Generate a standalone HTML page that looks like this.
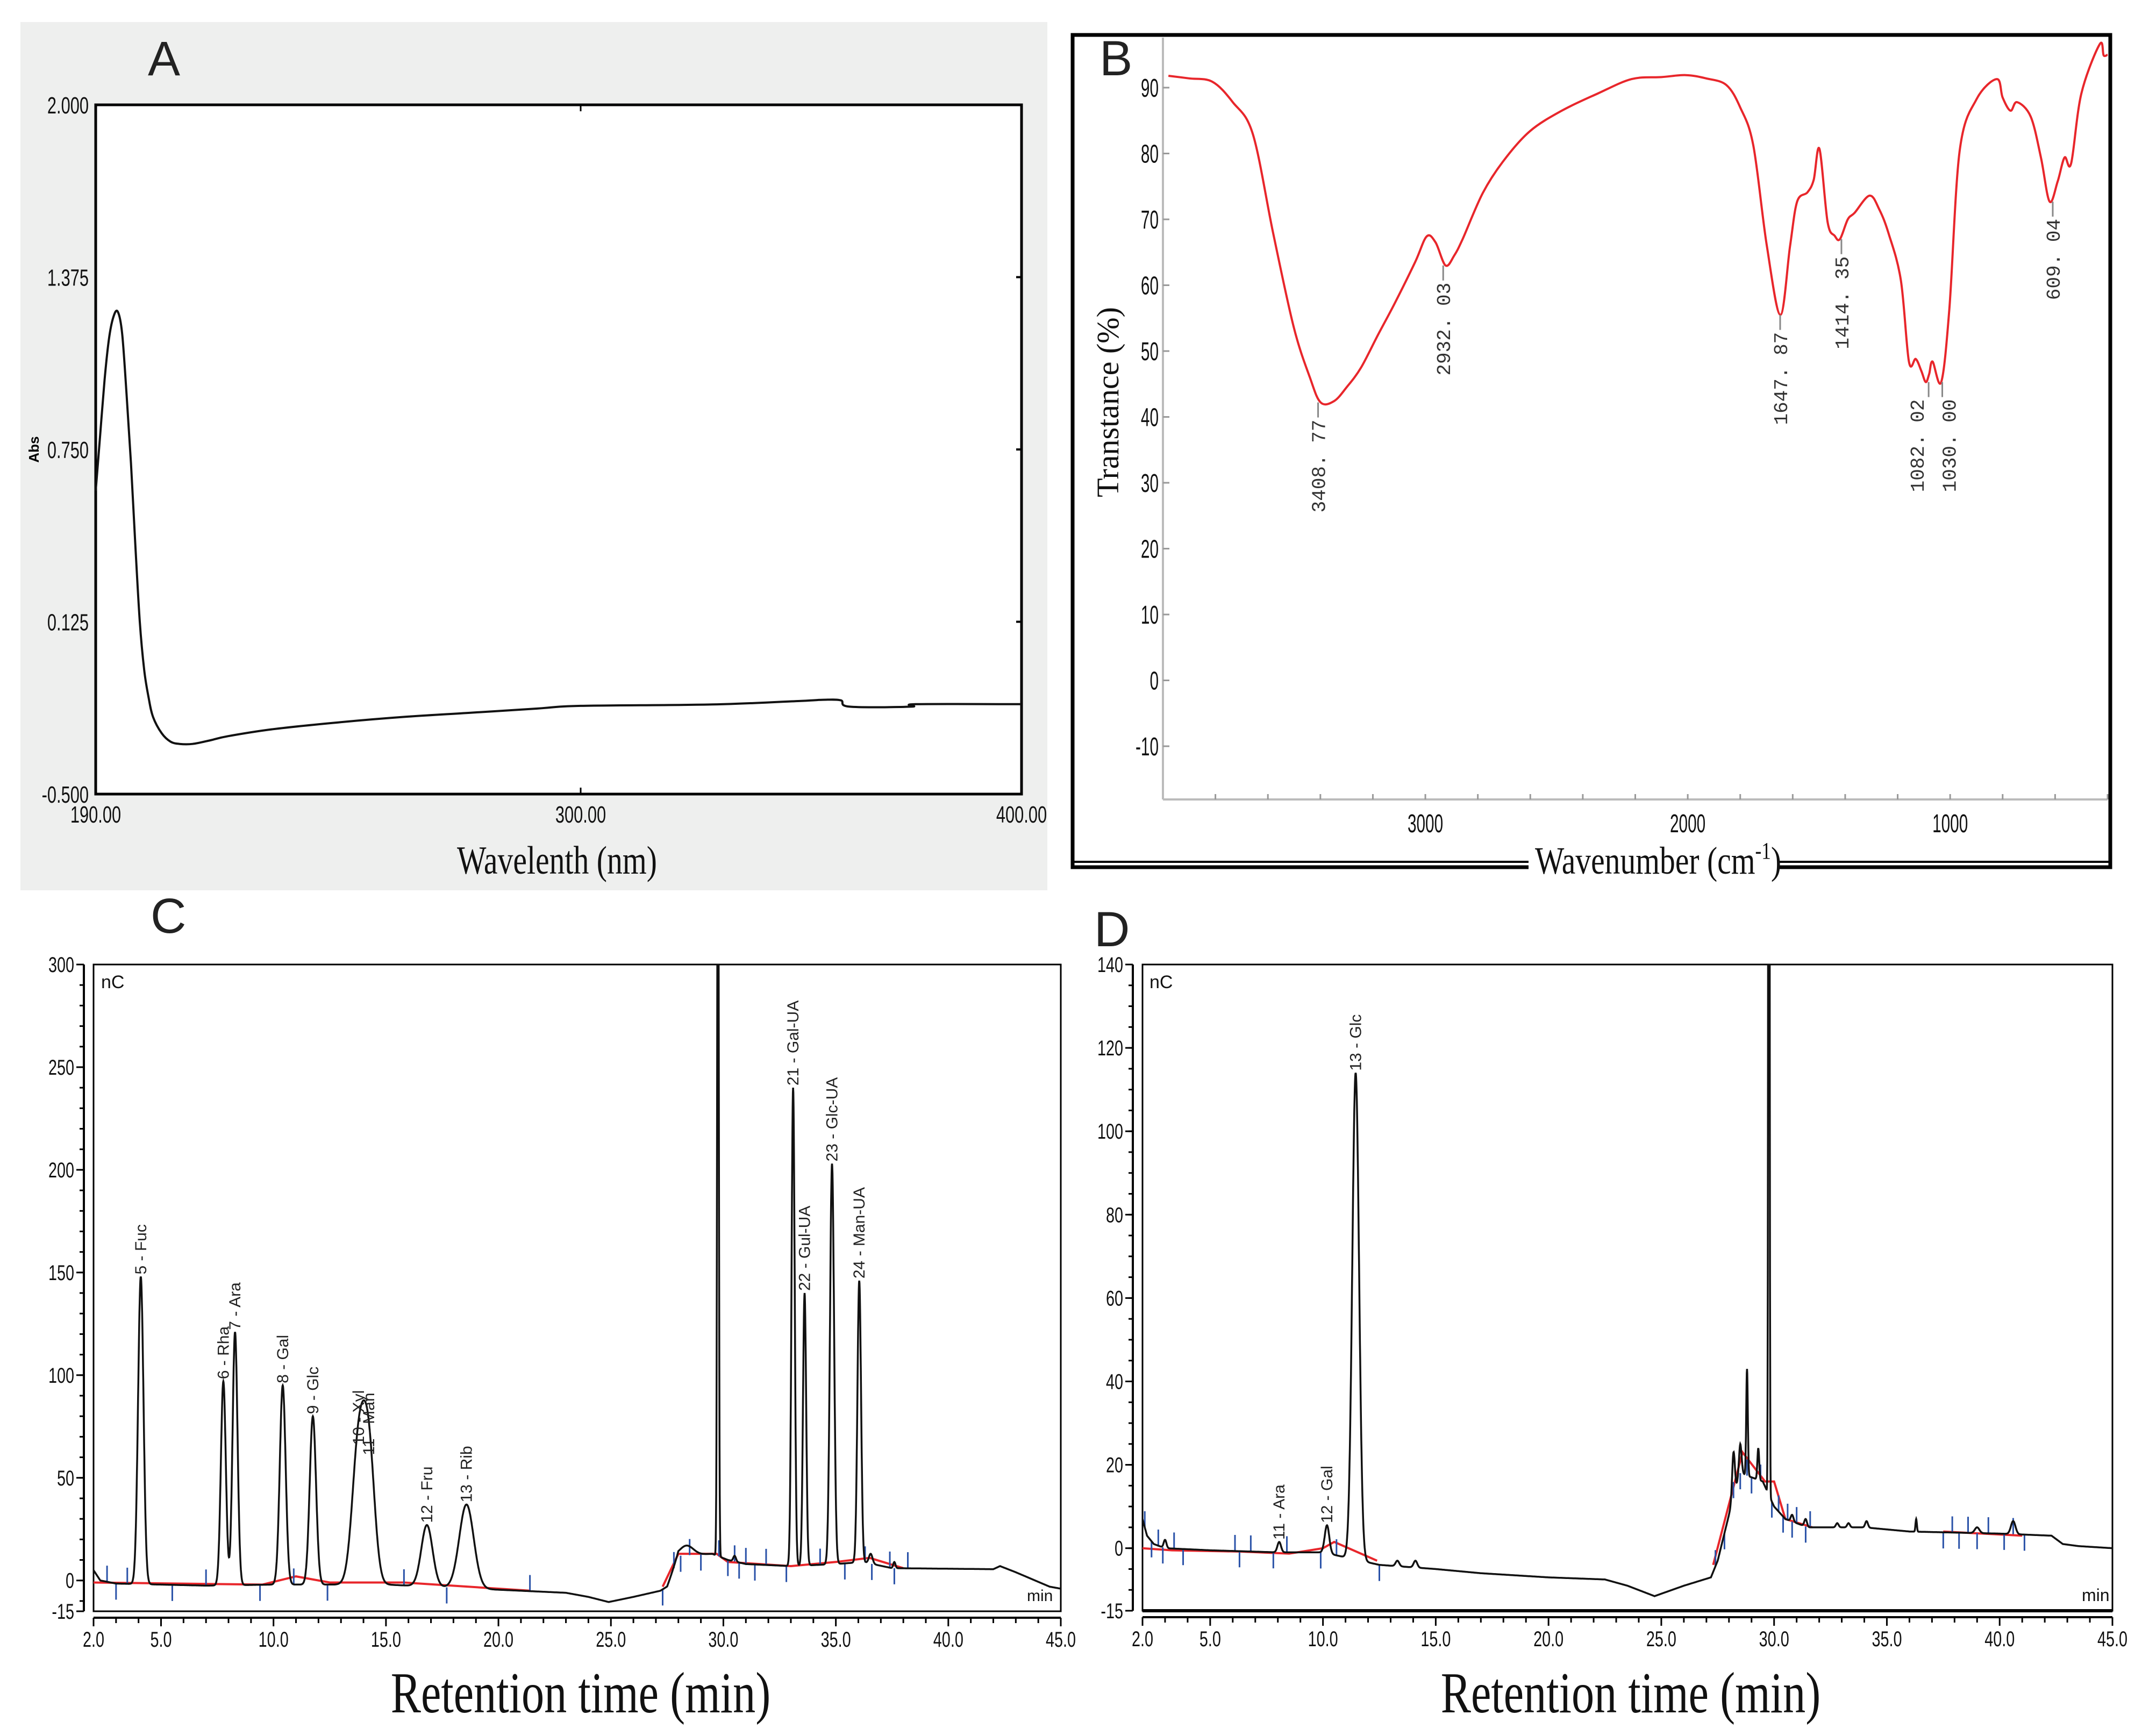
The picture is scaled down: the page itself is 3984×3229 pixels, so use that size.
<!DOCTYPE html>
<html><head><meta charset="utf-8"><style>
html,body{margin:0;padding:0;background:#fff}
svg{display:block}
.tk{font-family:"Liberation Sans Narrow","Liberation Sans",sans-serif;fill:#111}
.ser{font-family:"Liberation Serif",serif;fill:#111}
.pl{font-family:"Liberation Sans",sans-serif}
</style></head><body>
<svg id="fig" width="3984" height="3229" viewBox="0 0 3984 3229" xmlns="http://www.w3.org/2000/svg">
<rect width="3984" height="3229" fill="#fff"/>
<!-- Panel A -->
<g id="pA">
<rect x="38" y="41" width="1910" height="1615" fill="#eeefee"/>
<rect x="178" y="195" width="1722" height="1282" fill="#fff" stroke="#000" stroke-width="5"/>
<text x="275" y="140" class="pl" font-size="90" fill="#222">A</text>
<text transform="translate(1036,1625) scale(0.78,1)" text-anchor="middle" class="ser" font-size="74">Wavelenth (nm)</text>
<text transform="translate(72,836) rotate(-90)" text-anchor="middle" class="pl" font-size="26" font-weight="bold">Abs</text>
</g>
<!-- Panel B -->
<g id="pB">
<rect x="1995" y="65" width="1930" height="1548" fill="none" stroke="#000" stroke-width="7"/>
<line x1="1995" y1="1603" x2="3925" y2="1603" stroke="#000" stroke-width="4"/>
<line x1="2163" y1="70" x2="2163" y2="1487" stroke="#bbb" stroke-width="4"/>
<line x1="2163" y1="1487" x2="3920" y2="1487" stroke="#bbb" stroke-width="4"/>
<rect x="2843" y="1560" width="465" height="66" fill="#fff"/>
<text x="2045" y="140" class="pl" font-size="92" fill="#222">B</text>
<text transform="translate(3084,1625) scale(0.8,1)" text-anchor="middle" class="ser" font-size="72">Wavenumber (cm<tspan font-size="44" dy="-28">-1</tspan><tspan dy="28">)</tspan></text>
<text transform="translate(2080,748) rotate(-90)" text-anchor="middle" class="ser" font-size="58">Transtance (%)</text>
</g>
<!-- Panel C -->
<g id="pC">
<rect x="174" y="1794" width="1799" height="1203" fill="none" stroke="#000" stroke-width="3"/>
<text x="280" y="1735" class="pl" font-size="92" fill="#222">C</text>
<text x="188" y="1838" class="tk" font-size="34">nC</text>
<text x="1910" y="2978" class="tk" font-size="30">min</text>
<text transform="translate(1080,3185) scale(0.78,1)" text-anchor="middle" class="ser" font-size="108">Retention time (min)</text>
</g>
<!-- Panel D -->
<g id="pD">
<rect x="2125" y="1794" width="1804" height="1202" fill="none" stroke="#000" stroke-width="3"/>
<line x1="2125" y1="2996" x2="3929" y2="2996" stroke="#000" stroke-width="6"/>
<text x="2035" y="1760" class="pl" font-size="92" fill="#222">D</text>
<text x="2138" y="1838" class="tk" font-size="34">nC</text>
<text x="3872" y="2978" class="tk" font-size="32">min</text>
<text transform="translate(3033,3185) scale(0.78,1)" text-anchor="middle" class="ser" font-size="108">Retention time (min)</text>
</g>
</svg>
<script>
// ---------- Data: Panel A (UV) ----------
const uvWavelength = [190,191,192,193,194,195,196,197,198,199,200,201,202,203,205,207,209,212,216,220,230,245,260,275,290,300,330,350,355,359,361,375,376,400];
const uvAbs = [0.6,0.8,1.0,1.15,1.23,1.25,1.17,0.95,0.7,0.4,0.125,-0.05,-0.15,-0.22,-0.28,-0.31,-0.318,-0.318,-0.305,-0.29,-0.265,-0.24,-0.22,-0.205,-0.19,-0.18,-0.175,-0.162,-0.158,-0.16,-0.183,-0.183,-0.174,-0.174];
const uvYTicks = [2.0,1.375,0.75,0.125,-0.5];
const uvYTickLabels = ["2.000","1.375","0.750","0.125","-0.500"];
const uvXTicks = [190,300,400];
const uvXTickLabels = ["190.00","300.00","400.00"];
// ---------- Data: Panel B (IR) ----------
const irWavenumber = [3979,3900,3812,3734,3657,3580,3502,3440,3399,3348,3300,3245,3180,3116,3039,2995,2961,2923,2890,2858,2781,2700,2601,2480,2343,2214,2100,2008,1930,1853,1800,1750,1699,1647,1610,1583,1544,1520,1498,1467,1440,1420,1390,1364,1307,1270,1235,1188,1157,1131,1110,1093,1080,1067,1034,1003,964,900,822,800,770,745,693,654,621,590,564,539,500,430,415,400];
const irTrans = [91.8,91.4,90.9,87.8,82.9,67.9,53.7,46,42.2,42.4,44.5,47.5,52.5,57.3,63.5,67.4,66.5,63,64.5,67,74,79,83.4,86.5,89.1,91.3,91.6,91.9,91.4,90.4,87,81.2,66.1,55.5,66,72.7,74.1,76,80.7,69.6,67.5,67,70,71,73.6,71.5,67.9,60.8,48.4,48.8,47,45.3,46.5,48.4,45.3,56.4,80.3,88.2,91.3,88.5,86.5,87.8,85.6,79.4,72.7,75.8,79.4,78.5,89.1,96.6,94.9,95];
const irYTicks = [90,80,70,60,50,40,30,20,10,0,-10];
const irXTicks = [3000,2000,1000];
const irPeakWn = [3408.77,2932.03,1647.87,1414.35,1082.02,1030.00,609.04];
const irPeakT = [42.2,63,55.5,67,45.3,45.3,72.7];
const irPeakLabels = ["3408. 77","2932. 03","1647. 87","1414. 35","1082. 02","1030. 00","609. 04"];
// ---------- Data: Panel C ----------
const cBaseT = [2,2.3,3,7,10,15,20,23,24,24.9,26,27.2,27.5,28.0,29.5,30.2,31,33,35,36.2,37.5,42,42.3,43,44.5,45];
const cBaseV = [5,0,-1.5,-2.5,-2,-2,-4.5,-6,-8,-10.5,-8,-5,-3,12,13,10,8,7,8,9,6,5.5,7,4,-3,-4];
const cPeakT = [4.10,7.77,8.29,10.41,11.75,13.78,14.24,16.82,18.58,28.36,29.76,30.5,33.10,33.61,34.83,36.04,36.55,37.6];
const cPeakApex = [148,97,121,95,80,65,60,27,37,17,420,12,240,140,203,146,13,9];
const cPeakSigma = [0.12,0.11,0.11,0.13,0.14,0.28,0.26,0.25,0.32,0.3,0.035,0.06,0.07,0.07,0.09,0.08,0.08,0.05];
const cLabelIdx = [0,1,2,3,4,5,6,7,8,12,13,14,15];
const cLabels = ["5 - Fuc","6 - Rha","7 - Ara","8 - Gal","9 - Glc","10 - Xyl","11 - Man","12 - Fru","13 - Rib","21 - Gal-UA","22 - Gul-UA","23 - Glc-UA","24 - Man-UA"];
const cRedT = [[2,9.5,11,12.5,15.8,21.4],[27.3,28,29.7,30.2,33,35,36.5,38]];
const cRedV = [[-1,-2,2,-1,-1,-5],[-3,13,13,9,7,9,11,6]];
const cMarkT = [2.6,3.0,3.5,5.5,7,9.4,10.9,12.4,15.8,17.7,21.4,27.3,27.8,28.1,28.5,29.0,29.8,30.2,30.5,30.7,31.0,31.4,31.9,32.8,34.3,35.4,36.3,36.6,37.4,37.6,38.2];
const cYTicks = [300,250,200,150,100,50,0,-15];
// ---------- Data: Panel D ----------
const dBaseT = [2,2.2,2.5,3,5,8,10,12.5,15,17,20,22.5,23.5,24.7,26,27.2,27.5,28,28.5,29.5,30,30.5,31.5,34,36,40,42.3,42.8,43.5,45];
const dBaseV = [7,3,1,0,-0.5,-1,-1,-4,-5,-6,-7,-7.5,-9,-11.5,-9,-7,-3,8,18,16,10,7,5,5,4,3.5,3,1,0.5,0];
const dPeakT = [3.0,8.06,10.18,11.45,13.3,14.1,28.2,28.5,28.8,29.3,29.77,30.8,31.4,32.8,33.3,34.1,36.3,39.0,40.6];
const dPeakApex = [2,1.5,5.5,114,-3,-3,23,25,43,24,400,8,7,6,6,6.5,7,5,6.5];
const dPeakSigma = [0.06,0.08,0.1,0.15,0.08,0.08,0.06,0.06,0.035,0.04,0.025,0.06,0.06,0.06,0.06,0.06,0.03,0.1,0.1];
const dLabelIdx = [1,2,3];
const dLabels = ["11 - Ara","12 - Gal","13 - Glc"];
const dRedT = [[2,3.3,6.3,8.5,10,10.5,12.4],[27.3,28.6,29.6,30,30.5,31.7],[37.5,41]];
const dRedV = [[0,-0.5,-0.8,-1.3,0,1.5,-3],[-4,23,16,16,7,5],[4,3]];
const dMarkT = [2.1,2.4,2.7,2.9,3.4,3.8,6.1,6.3,6.8,7.8,8.4,9.9,10.6,12.5,27.4,27.8,28.2,28.5,28.8,29.0,29.4,29.9,30.2,30.4,30.6,30.8,31.0,31.4,31.6,37.5,37.9,38.2,38.6,39.0,39.5,40.2,40.6,41.1];
const dYTicks = [140,120,100,80,60,40,20,0,-15];
const chromXTicks = [2,5,10,15,20,25,30,35,40,45];

const NS = "http://www.w3.org/2000/svg";
function mk(tag, attrs, parent){ const e=document.createElementNS(NS,tag); for(const k in attrs) e.setAttribute(k,attrs[k]); parent.appendChild(e); return e; }
function interp(xs, ys, x){ if(x<=xs[0]) return ys[0]; for(let i=1;i<xs.length;i++){ if(x<=xs[i]){ const f=(x-xs[i-1])/(xs[i]-xs[i-1]); return ys[i-1]+f*(ys[i]-ys[i-1]); } } return ys[ys.length-1]; }
function lin(d0,d1,r0,r1){ return v=>r0+(v-d0)/(d1-d0)*(r1-r0); }
function smoothPath(pts){ let d="M"+pts[0][0].toFixed(1)+","+pts[0][1].toFixed(1); for(let i=0;i<pts.length-1;i++){ const p0=pts[Math.max(0,i-1)],p1=pts[i],p2=pts[i+1],p3=pts[Math.min(pts.length-1,i+2)]; const c1=[p1[0]+(p2[0]-p0[0])/6,p1[1]+(p2[1]-p0[1])/6], c2=[p2[0]-(p3[0]-p1[0])/6,p2[1]-(p3[1]-p1[1])/6]; d+="C"+c1[0].toFixed(1)+","+c1[1].toFixed(1)+" "+c2[0].toFixed(1)+","+c2[1].toFixed(1)+" "+p2[0].toFixed(1)+","+p2[1].toFixed(1);} return d; }

// ---------- Panel A render ----------
(function(){
  const g=document.getElementById('pA');
  const x=lin(190,400,178,1900), y=lin(-0.5,2.0,1477,195);
  uvYTicks.forEach((v,i)=>{
    const t=mk('text',{x:165/0.7,y:y(v)+16,'text-anchor':'end',class:'tk','font-size':44,transform:'scale(0.7,1)'},g);
    t.textContent=uvYTickLabels[i];
    
    
    const r=mk('line',{x1:1890,y1:y(v),x2:1900,y2:y(v),stroke:'#000','stroke-width':4},g);
    
    
  });
  uvXTicks.forEach((v,i)=>{
    const t=mk('text',{x:x(v)/0.7,y:1530,'text-anchor':'middle',class:'tk','font-size':44,transform:'scale(0.7,1)'},g);
    t.textContent=uvXTickLabels[i];
    
    
    [[195,207],[1465,1477]].forEach(p=>{ const l=mk('line',{x1:x(v),y1:p[0],x2:x(v),y2:p[1],stroke:'#000','stroke-width':3},g);
      
       });
  });
  const pts=uvWavelength.map((w,i)=>[x(w),y(uvAbs[i])]);
  const p=mk('path',{d:smoothPath(pts),fill:'none',stroke:'#111','stroke-width':4},g);
  
  
})();

// ---------- Panel B render ----------
(function(){
  const g=document.getElementById('pB');
  const x=lin(4000,400,2163,3920), y=lin(0,90,1265.5,163);
  irYTicks.forEach(v=>{
    const t=mk('text',{x:2155/0.62,y:y(v)+17,'text-anchor':'end',class:'tk','font-size':48,transform:'scale(0.62,1)'},g);
    t.textContent=String(v);
    
    
    const l=mk('line',{x1:2163,y1:y(v),x2:2175,y2:y(v),stroke:'#999','stroke-width':3},g);
    
    
  });
  irXTicks.forEach(v=>{
    const t=mk('text',{x:x(v)/0.62,y:1548,'text-anchor':'middle',class:'tk','font-size':48,transform:'scale(0.62,1)'},g);
    t.textContent=String(v);
    
    
  });
  for(let v=3800;v>=400;v-=200){ const l=mk('line',{x1:x(v),y1:1487,x2:x(v),y2:1477,stroke:'#999','stroke-width':3},g);
    
     }
  const pts=irWavenumber.map((w,i)=>[x(w),y(irTrans[i])]);
  const p=mk('path',{d:smoothPath(pts),fill:'none',stroke:'#e8262b','stroke-width':4,'stroke-linejoin':'round'},g);
  
  
  const lblShift=[0,0,0,0,-22,12,0];
  irPeakWn.forEach((w,i)=>{
    const px=x(w), py=y(irPeakT[i]);
    const l=mk('line',{x1:px,y1:py,x2:px,y2:py+28,stroke:'#888','stroke-width':3},g);
    
    
    const t=mk('text',{transform:`translate(${px+13+lblShift[i]},${py+32}) rotate(-90)`,'text-anchor':'end',style:'font-family:"Liberation Mono",monospace','font-size':36,fill:'#333'},g);
    t.textContent=irPeakLabels[i];
    
    
  });
})();

// ---------- Chromatogram render ----------
function chrom(gid, box, ymin, ymax, yTicks, baseT, baseV, pT, pA, pS, lblIdx, lbls, redT, redV, markT, prefix){
  const g=document.getElementById(gid);
  const x=lin(2,45,box.l,box.r), y=lin(ymin,ymax,box.b,box.t);
  const clip=mk('clipPath',{id:prefix+'clip'},g);
  mk('rect',{x:box.l,y:box.t,width:box.r-box.l,height:box.b-box.t},clip);
  const axL=box.l-18, axB=box.b+12;
  const ya=mk('line',{x1:axL,y1:box.t,x2:axL,y2:box.b,stroke:'#000','stroke-width':4},g);
  
  
  const xa=mk('line',{x1:box.l,y1:axB,x2:box.r,y2:axB,stroke:'#000','stroke-width':4},g);
  
  
  const step=(ymax-ymin)>200?10:5;
  for(let v=Math.ceil(ymin/step)*step; v<=ymax; v+=step){ const l=mk('line',{x1:axL-8,y1:y(v),x2:axL,y2:y(v),stroke:'#000','stroke-width':3},g);
    
     }
  yTicks.forEach(v=>{
    const l=mk('line',{x1:axL-14,y1:y(v),x2:axL,y2:y(v),stroke:'#000','stroke-width':3},g);
    
    
    const t=mk('text',{x:(axL-18)/0.72,y:y(v)+14,'text-anchor':'end',class:'tk','font-size':40,transform:'scale(0.72,1)'},g);
    t.textContent=String(v);
    
    
  });
  for(let v=2; v<=45; v+=1){ const l=mk('line',{x1:x(v),y1:axB,x2:x(v),y2:axB+(v%5===0||v===2?16:10),stroke:'#000','stroke-width':3},g);
    
     }
  chromXTicks.forEach(v=>{
    const t=mk('text',{x:x(v)/0.72,y:axB+54,'text-anchor':'middle',class:'tk','font-size':40,transform:'scale(0.72,1)'},g);
    t.textContent=v.toFixed(1);
    
    
  });
  const sig=t=>{ let s=interp(baseT,baseV,t); for(let i=0;i<pT.length;i++){ const h=pA[i]-interp(baseT,baseV,pT[i]); s+=h*Math.exp(-0.5*Math.pow((t-pT[i])/pS[i],2)); } return s; };
  let d="";
  for(let t=2;t<=45.0001;t+=0.01){ d+=(d?"L":"M")+x(t).toFixed(1)+","+y(sig(t)).toFixed(1); }
  redT.forEach((seg,si)=>{
    const r=mk('polyline',{points:seg.map((t,i)=>x(t).toFixed(1)+","+y(redV[si][i]).toFixed(1)).join(" "),fill:'none',stroke:'#e8262b','stroke-width':4,'clip-path':`url(#${prefix}clip)`},g);
    
    
  });
  markT.forEach((t,i)=>{
    const v=interp(baseT,baseV,t); const up=i%2===0;
    const m=mk('line',{x1:x(t),y1:y(v)+(up?-30:0),x2:x(t),y2:y(v)+(up?0:30),stroke:'#2a52a8','stroke-width':3},g);
    
    
  });
  const p=mk('path',{d:d,fill:'none',stroke:'#111','stroke-width':3.5,'clip-path':`url(#${prefix}clip)`},g);
  
  
  lblIdx.forEach((pi,k)=>{
    const px=x(pT[pi]), py=y(pA[pi]);
    const t=mk('text',{transform:`translate(${px+10},${py-4}) rotate(-90)`,class:'pl','font-size':30,fill:'#222'},g);
    t.textContent=lbls[k];
    
    
  });
}
chrom('pC',{l:174,r:1973,t:1794,b:2997},-15,300,cYTicks,cBaseT,cBaseV,cPeakT,cPeakApex,cPeakSigma,cLabelIdx,cLabels,cRedT,cRedV,cMarkT,'panel-c');
chrom('pD',{l:2125,r:3929,t:1794,b:2996},-15,140,dYTicks,dBaseT,dBaseV,dPeakT,dPeakApex,dPeakSigma,dLabelIdx,dLabels,dRedT,dRedV,dMarkT,'panel-d');
</script>
</body></html>
